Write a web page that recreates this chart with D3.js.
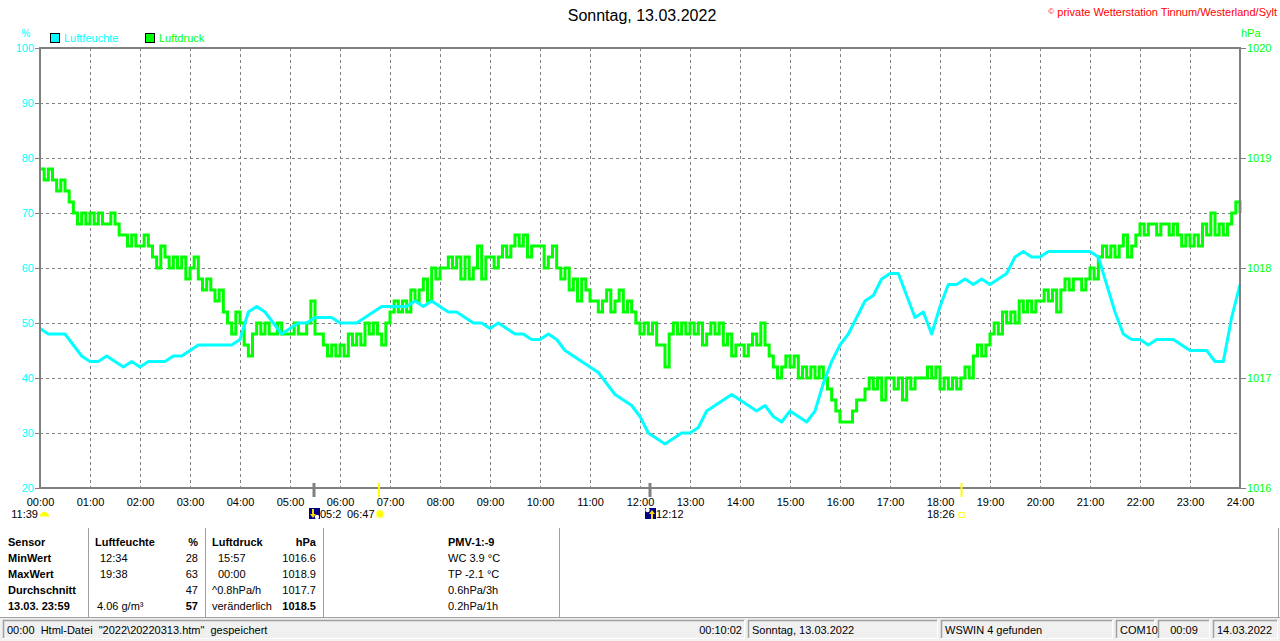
<!DOCTYPE html>
<html lang="de">
<head>
<meta charset="UTF-8">
<title>Sonntag, 13.03.2022</title>
<script src="https://d3js.org/d3.v7.min.js"></script>
<style>
  body { margin: 0; background: #fff; }
  svg { display: block; font-family: "Liberation Sans", Arial, sans-serif; }
</style>
</head>
<body>
<svg id="chart" width="1280" height="641"></svg>
<script>
// ---- data ----
const hourLabels = ["00:00","01:00","02:00","03:00","04:00","05:00","06:00","07:00","08:00","09:00","10:00","11:00",
                    "12:00","13:00","14:00","15:00","16:00","17:00","18:00","19:00","20:00","21:00","22:00","23:00","24:00"]
const humTicks = [20, 30, 40, 50, 60, 70, 80, 90, 100]
const pressTicks = [1016, 1017, 1018, 1019, 1020]

// Luftfeuchte in %, one value every 10 minutes (00:00 .. 24:00)
const humidity = [
  49,48,48,48,46,44,  43,43,44,43,42,43,  42,43,43,43,44,44,  45,46,46,46,46,46,
  47,52,53,52,50,48,  49,50,50,51,51,51,  50,50,50,51,52,53,  53,53,53,54,53,54,
  53,52,52,51,50,50,  49,50,49,48,48,47,  47,48,47,45,44,43,  42,41,39,37,36,35,
  33,30,29,28,29,30,  30,31,34,35,36,37,  36,35,34,35,33,32,  34,33,32,34,39,43,
  46,48,51,54,55,58,  59,59,55,51,52,48,  53,57,57,58,57,58,  57,58,59,62,63,62,
  62,63,63,63,63,63,  63,62,57,52,48,47,  47,46,47,47,47,46,  45,45,45,43,43,51,
  57
]

// Luftdruck in hPa, one value every 5 minutes (00:00 .. 24:00)
const pressure = [
  1018.9,1018.8,1018.9,1018.8,1018.7,1018.8,1018.7,1018.6,1018.5,1018.4,1018.5,1018.4,
  1018.5,1018.4,1018.5,1018.4,1018.4,1018.5,1018.4,1018.3,1018.3,1018.2,1018.3,1018.2,
  1018.2,1018.3,1018.2,1018.1,1018.0,1018.2,1018.1,1018.0,1018.1,1018.0,1018.1,1017.9,
  1018.0,1018.1,1017.9,1017.8,1017.9,1017.8,1017.7,1017.8,1017.6,1017.5,1017.4,1017.6,
  1017.5,1017.3,1017.2,1017.4,1017.5,1017.4,1017.5,1017.4,1017.4,1017.5,1017.4,1017.4,
  1017.4,1017.5,1017.4,1017.4,1017.5,1017.7,1017.4,1017.4,1017.3,1017.2,1017.3,1017.2,
  1017.3,1017.2,1017.4,1017.3,1017.4,1017.3,1017.5,1017.4,1017.5,1017.4,1017.3,1017.5,
  1017.6,1017.7,1017.6,1017.7,1017.6,1017.8,1017.7,1017.8,1017.9,1017.7,1018.0,1017.9,
  1018.0,1018.0,1018.1,1018.0,1018.1,1017.9,1018.1,1017.9,1018.0,1018.2,1017.9,1018.1,
  1018.1,1018.0,1018.1,1018.2,1018.1,1018.2,1018.3,1018.2,1018.3,1018.1,1018.2,1018.2,
  1018.2,1018.0,1018.1,1018.2,1018.0,1017.9,1018.0,1017.8,1017.9,1017.7,1017.9,1017.8,
  1017.7,1017.7,1017.6,1017.7,1017.8,1017.6,1017.7,1017.8,1017.6,1017.7,1017.6,1017.5,
  1017.4,1017.5,1017.4,1017.5,1017.3,1017.3,1017.1,1017.4,1017.5,1017.4,1017.5,1017.4,
  1017.5,1017.4,1017.5,1017.3,1017.4,1017.5,1017.4,1017.5,1017.3,1017.4,1017.2,1017.3,
  1017.3,1017.2,1017.3,1017.4,1017.3,1017.5,1017.3,1017.2,1017.1,1017.0,1017.1,1017.2,
  1017.1,1017.2,1017.0,1017.1,1017.0,1017.1,1017.0,1017.1,1017.0,1016.9,1016.8,1016.7,
  1016.6,1016.6,1016.6,1016.7,1016.8,1016.8,1016.9,1017.0,1016.9,1017.0,1016.8,1017.0,
  1017.0,1016.9,1017.0,1016.8,1017.0,1016.9,1017.0,1017.0,1017.0,1017.1,1017.0,1017.1,
  1016.9,1017.0,1016.9,1017.0,1016.9,1017.0,1017.1,1017.0,1017.2,1017.3,1017.2,1017.3,
  1017.4,1017.5,1017.4,1017.6,1017.5,1017.6,1017.5,1017.7,1017.6,1017.7,1017.6,1017.7,
  1017.7,1017.8,1017.7,1017.8,1017.6,1017.8,1017.9,1017.8,1017.9,1017.9,1017.8,1017.9,
  1018.0,1017.9,1018.1,1018.2,1018.1,1018.2,1018.1,1018.2,1018.3,1018.1,1018.2,1018.3,
  1018.4,1018.3,1018.4,1018.4,1018.3,1018.4,1018.4,1018.3,1018.4,1018.3,1018.2,1018.3,
  1018.2,1018.3,1018.2,1018.4,1018.3,1018.5,1018.3,1018.4,1018.3,1018.4,1018.5,1018.6,
  1018.5
]

// sun / moon marks under the time axis (hour of day)
const events = [
  {t: 5.48,  tick: "#808080", label: "05:2",  icon: "moondown"},
  {t: 6.78,  tick: "#ffff00", label: "06:47", icon: "sunrise"},
  {t: 12.2,  tick: "#808080", label: "12:12", icon: "moonup"},
  {t: 18.43, tick: "#ffff00", label: "18:26", icon: "sunset"}
]

// summary table
const sensorCol = ["Sensor", "MinWert", "MaxWert", "Durchschnitt", "13.03. 23:59"]
const humTimeCol = ["Luftfeuchte", "12:34", "19:38", "", "4.06 g/m³"]
const humValCol = ["%", "28", "63", "47", "57"]
const pressTimeCol = ["Luftdruck", "15:57", "00:00", "^0.8hPa/h", "veränderlich"]
const pressValCol = ["hPa", "1016.6", "1018.9", "1017.7", "1018.5"]
const extraCol = ["PMV-1:-9", "WC 3.9 °C", "TP -2.1 °C", "0.6hPa/3h", "0.2hPa/1h"]

const statusCells = [
  {x0: 3,    x1: 745,  text: "00:00  Html-Datei  \"2022\\20220313.htm\"  gespeichert", right: "00:10:02"},
  {x0: 748,  x1: 938,  text: "Sonntag, 13.03.2022"},
  {x0: 941,  x1: 1113, text: "WSWIN 4 gefunden"},
  {x0: 1116, x1: 1155, text: "COM10"},
  {x0: 1158, x1: 1210, text: "00:09", center: true},
  {x0: 1213, x1: 1278, text: "14.03.2022"}
]

// ---- scales ----
const svg = d3.select("#chart")
const x = d3.scaleLinear().domain([0, 24]).range([40, 1240])
const yH = d3.scaleLinear().domain([20, 100]).range([488, 48])
const yP = d3.scaleLinear().domain([1016, 1020]).range([488, 48])

const humData = humidity.map((v, i) => ({t: i / 6, v: v}))
const pressData = pressure.map((v, i) => ({t: i / 12, v: v}))

svg.append("rect").attr("width", 1280).attr("height", 641).attr("fill", "#fff")

// title + copyright
svg.append("text").attr("x", 642).attr("y", 21).attr("text-anchor", "middle")
  .attr("font-size", 16).attr("fill", "#000").text("Sonntag, 13.03.2022")
const copy = svg.append("text").attr("x", 1277).attr("y", 16).attr("text-anchor", "end")
  .attr("font-size", 11).attr("fill", "#ff0000")
copy.append("tspan").attr("font-size", 8).attr("dy", -2).text("©")
copy.append("tspan").attr("dy", 2).text(" private Wetterstation Tinnum/Westerland/Sylt")

// units + legend
svg.append("text").attr("x", 26).attr("y", 37).attr("text-anchor", "middle")
  .attr("font-size", 10).attr("fill", "#00ffff").text("%")
svg.append("text").attr("x", 1241).attr("y", 37).attr("font-size", 11).attr("fill", "#00ff00").text("hPa")
const legend = [{name: "Luftfeuchte", color: "#00ffff", x: 50}, {name: "Luftdruck", color: "#00ff00", x: 145}]
legend.forEach(l => {
  svg.append("rect").attr("x", l.x + 0.5).attr("y", 33.5).attr("width", 9).attr("height", 9)
    .attr("fill", l.color).attr("stroke", "#000")
  svg.append("text").attr("x", l.x + 14).attr("y", 42).attr("font-size", 11).attr("fill", l.color).text(l.name)
})

// dashed grid
const grid = svg.append("g").attr("stroke", "#808080").attr("stroke-dasharray", "3,3")
  .attr("shape-rendering", "crispEdges")
grid.selectAll("line.h").data(humTicks.slice(1, -1)).enter().append("line")
  .attr("x1", 40).attr("x2", 1240).attr("y1", d => yH(d) + 0.5).attr("y2", d => yH(d) + 0.5)
grid.selectAll("line.v").data(d3.range(1, 24)).enter().append("line")
  .attr("y1", 48).attr("y2", 488).attr("x1", d => x(d) + 0.5).attr("x2", d => x(d) + 0.5)

// axes
const leftAxis = d3.axisLeft(yH).tickValues(humTicks).tickSize(5).tickPadding(1)
const gl = svg.append("g").attr("transform", "translate(40,0)").call(leftAxis)
gl.select(".domain").remove()
gl.selectAll("line").attr("stroke", "#808080")
gl.selectAll("text").attr("fill", "#00ffff").attr("font-size", 11).attr("font-family", null)

const rightAxis = d3.axisRight(yP).tickValues(pressTicks).tickSize(6).tickPadding(1).tickFormat(d3.format("d"))
const gr = svg.append("g").attr("transform", "translate(1240,0)").call(rightAxis)
gr.select(".domain").remove()
gr.selectAll("line").attr("stroke", "#808080")
gr.selectAll("text").attr("fill", "#00ff00").attr("font-size", 11).attr("font-family", null)

const bottomAxis = d3.axisBottom(x).tickValues(d3.range(0, 25)).tickSize(0).tickPadding(10)
  .tickFormat((d, i) => hourLabels[i])
const gb = svg.append("g").attr("transform", "translate(0,488)").call(bottomAxis)
gb.select(".domain").remove()
gb.selectAll("text").attr("fill", "#000").attr("font-size", 11).attr("font-family", null)

// series
svg.append("path").datum(pressData)
  .attr("fill", "none").attr("stroke", "#00ff00").attr("stroke-width", 3)
  .attr("d", d3.line().x(d => x(d.t)).y(d => yP(d.v)).curve(d3.curveStepAfter))
svg.append("path").datum(humData)
  .attr("fill", "none").attr("stroke", "#00ffff").attr("stroke-width", 3).attr("stroke-linejoin", "round")
  .attr("d", d3.line().x(d => x(d.t)).y(d => yH(d.v)))

// frame
svg.append("rect").attr("x", 40).attr("y", 48).attr("width", 1200).attr("height", 440)
  .attr("fill", "none").attr("stroke", "#808080").attr("stroke-width", 2)

// sun / moon marks
svg.append("text").attr("x", 38).attr("y", 518).attr("text-anchor", "end").attr("font-size", 11).text("11:39")
svg.append("path").attr("d", "M40,516.5 A4.5,4.5 0 0 1 49,516.5 Z").attr("fill", "#ffff00")

events.forEach(e => {
  const ex = x(e.t)
  svg.append("line").attr("x1", ex).attr("x2", ex).attr("y1", 483).attr("y2", 497)
    .attr("stroke", e.tick).attr("stroke-width", e.tick === "#808080" ? 3 : 2)
  const g = svg.append("g")
  if (e.icon === "moondown" || e.icon === "moonup") {
    const ix = e.icon === "moondown" ? ex - 5 : ex - 5
    g.append("rect").attr("x", ix).attr("y", 508).attr("width", 11).attr("height", 11).attr("fill", "#000080")
    g.append("circle").attr("cx", e.icon === "moondown" ? ix + 8 : ix + 2.5).attr("cy", e.icon === "moondown" ? 517 : 510)
      .attr("r", 2.2).attr("fill", "#fff")
    const ax = e.icon === "moondown" ? ix + 4 : ix + 7
    g.append("path").attr("fill", "#ffd700")
      .attr("d", e.icon === "moondown"
        ? `M${ax - 1},509 h2 v5 h2 l-3,4 l-3,-4 h2 z`
        : `M${ax},510 l3,4 h-2 v5 h-2 v-5 h-2 z`)
    g.append("text").attr("x", ix + 11).attr("y", 518).attr("font-size", 11).text(e.label)
  } else if (e.icon === "sunrise") {
    g.append("text").attr("x", ex - 32).attr("y", 518).attr("font-size", 11).text(e.label)
    g.append("circle").attr("cx", ex + 1).attr("cy", 514).attr("r", 4.5).attr("fill", "#ffff80")
    g.append("circle").attr("cx", ex + 1).attr("cy", 514).attr("r", 3).attr("fill", "#ffff00")
  } else {
    g.append("text").attr("x", ex - 7).attr("y", 518).attr("text-anchor", "end").attr("font-size", 11).text(e.label)
    g.append("rect").attr("x", ex - 2.5).attr("y", 512.5).attr("width", 5).attr("height", 5)
      .attr("fill", "none").attr("stroke", "#ffff00")
  }
})

// summary table
const rowY = [546, 562, 578, 594, 610]
const table = svg.append("g").attr("font-size", 11).attr("fill", "#000")
function column(values, xPos, anchor, boldRows) {
  table.selectAll(null).data(values).enter().append("text")
    .attr("x", xPos).attr("y", (d, i) => rowY[i]).attr("text-anchor", anchor)
    .attr("font-weight", (d, i) => boldRows.includes(i) ? "bold" : null)
    .text(d => d)
}
column(sensorCol, 8, "start", [0, 1, 2, 3, 4])
column(humTimeCol.slice(0, 1), 95, "start", [0])
table.selectAll(null).data(humTimeCol.slice(1)).enter().append("text")
  .attr("x", (d, i) => i === 3 ? 97 : 100).attr("y", (d, i) => rowY[i + 1]).text(d => d)
column(humValCol, 198, "end", [0, 4])
column(pressTimeCol, 212, "start", [0])
table.selectAll("text").filter(function () { return this.textContent === "15:57" || (this.textContent === "00:00" && +this.getAttribute("x") === 212) })
  .attr("x", 218)
column(pressValCol, 316, "end", [0, 4])
column(extraCol, 448, "start", [0])

svg.selectAll("line.sep").data([88, 205, 323, 559, 1278]).enter().append("line")
  .attr("x1", d => d + 0.5).attr("x2", d => d + 0.5).attr("y1", 528).attr("y2", 617)
  .attr("stroke", "#a0a0a0").attr("stroke-width", 1)

// status bar
svg.append("rect").attr("x", 0).attr("y", 617).attr("width", 1280).attr("height", 24).attr("fill", "#f0f0f0")
svg.append("line").attr("x1", 0).attr("x2", 1280).attr("y1", 617.5).attr("y2", 617.5).attr("stroke", "#a0a0a0")
statusCells.forEach(c => {
  const g = svg.append("g")
  g.append("rect").attr("x", c.x0).attr("y", 620).attr("width", c.x1 - c.x0).attr("height", 18).attr("fill", "#f0f0f0")
  g.append("path").attr("d", `M${c.x0 + 0.5},638 V620.5 H${c.x1}`).attr("fill", "none").attr("stroke", "#a0a0a0").attr("stroke-width", 1.5)
  g.append("path").attr("d", `M${c.x0},638.5 H${c.x1 - 0.5} V620`).attr("fill", "none").attr("stroke", "#ffffff")
  g.append("text").attr("x", c.center ? (c.x0 + c.x1) / 2 : c.x0 + 4).attr("y", 634)
    .attr("text-anchor", c.center ? "middle" : "start").attr("font-size", 11)
    .style("white-space", "pre").text(c.text)
  if (c.right) g.append("text").attr("x", c.x1 - 3).attr("y", 634).attr("text-anchor", "end")
    .attr("font-size", 11).text(c.right)
})
</script>
</body>
</html>
